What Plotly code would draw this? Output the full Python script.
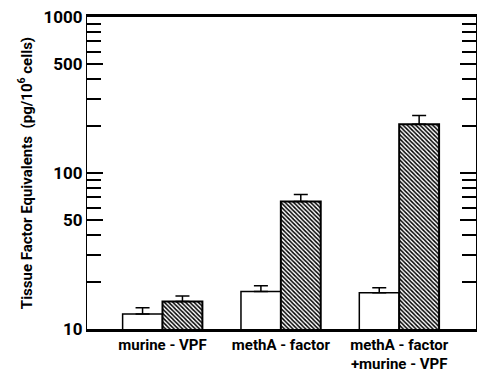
import plotly.graph_objects as go

categories = ["murine - VPF", "methA - factor", "methA - factor<br>+murine - VPF"]
control = [12.5, 17.4, 17.1]
control_err = [1.2, 1.5, 1.3]
treated = [15.0, 65.6, 205.0]
treated_err = [1.3, 7.2, 29.0]
major_ticks = [10, 50, 100, 500, 1000]
major_labels = ["10", "50", "100", "500", "1000"]
minor_ticks = [20, 30, 40, 60, 70, 80, 90, 200, 300, 400, 600, 700, 800, 900]

FONT = "Liberation Sans Narrow, Arial Narrow, Roboto, sans-serif"

fig = go.Figure()
fig.add_trace(go.Bar(
    x=categories, y=control,
    marker=dict(color="white", line=dict(color="black", width=1.5)),
    error_y=dict(type="data", array=control_err, arrayminus=[0]*3, symmetric=False,
                 color="black", thickness=1.5, width=7),
    showlegend=False,
))
fig.add_trace(go.Bar(
    x=categories, y=treated,
    marker=dict(color="white", line=dict(color="black", width=2),
                pattern=dict(shape="\\", fgcolor="black", bgcolor="white",
                             size=3, solidity=0.5, fillmode="replace")),
    error_y=dict(type="data", array=treated_err, arrayminus=[0]*3, symmetric=False,
                 color="black", thickness=1.5, width=7),
    showlegend=False,
))

fig.update_layout(
    width=478, height=374,
    margin=dict(l=87, r=1, t=17, b=43),
    paper_bgcolor="white", plot_bgcolor="white",
    barmode="group", bargap=0.326, bargroupgap=0,
    font=dict(family=FONT, color="black", weight="bold"),
    xaxis=dict(
        range=[-0.638, 2.649],
        showline=True, linecolor="black", linewidth=2.5, mirror=True,
        ticks="", showgrid=False,
        tickfont=dict(size=15, family=FONT, weight="bold"),
    ),
    yaxis=dict(
        type="log", range=[1, 3],
        showline=True, linecolor="black", linewidth=1.2, mirror="ticks",
        showgrid=False, zeroline=False,
        tickmode="array", tickvals=major_ticks, ticktext=major_labels,
        ticks="inside", ticklen=16, tickwidth=1.8, tickcolor="black",
        tickfont=dict(size=17, family=FONT, weight="bold"),
        minor=dict(tickmode="array", tickvals=minor_ticks, ticks="inside",
                   ticklen=14, tickwidth=1.8, tickcolor="black", showgrid=False),
        title=dict(
            text="Tissue Factor Equivalents  (pg/10<sup>6</sup> cells)",
            font=dict(size=15, family=FONT, weight="bold"),
            standoff=7,
        ),
    ),
)

fig.write_html("out.html")
